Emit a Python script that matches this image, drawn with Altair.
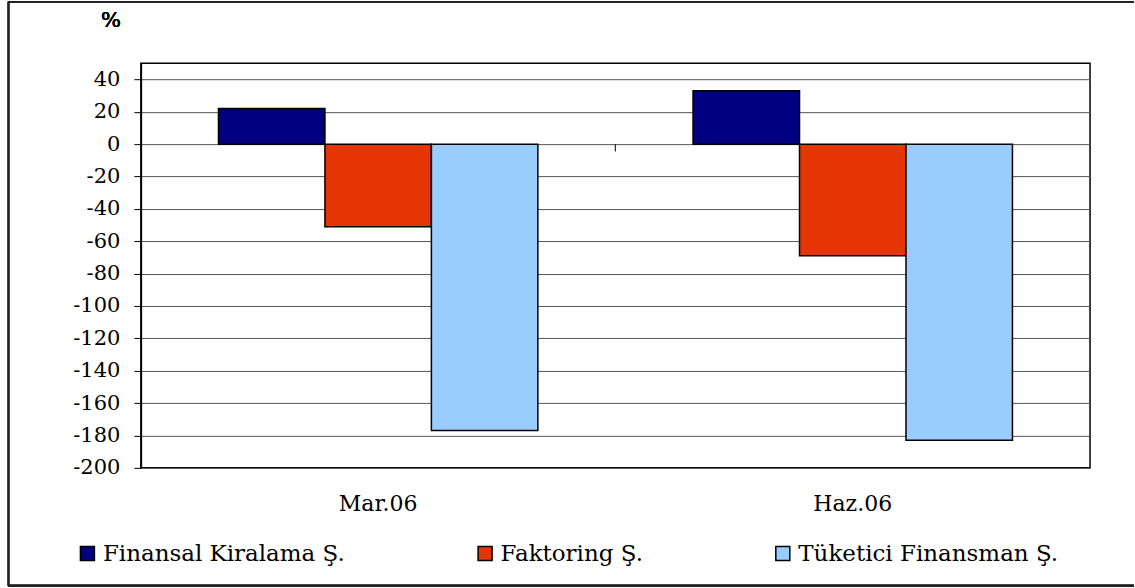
import altair as alt
import pandas as pd

periods = ["Mar.06", "Haz.06"]
series = ["Finansal Kiralama Ş.", "Faktoring Ş.", "Tüketici Finansman Ş."]
values_mar = [22, -51, -177]
values_haz = [33, -69, -183]
colors = ["#000080", "#E63505", "#99CCFF"]
y_ticks = list(range(-200, 41, 20))

rows = []
for s, v in zip(series, values_mar):
    rows.append({"period": periods[0], "series": s, "value": v})
for s, v in zip(series, values_haz):
    rows.append({"period": periods[1], "series": s, "value": v})
df = pd.DataFrame(rows)

FONT = "DejaVu Serif"

bars = alt.Chart(df).mark_bar(stroke="black", strokeWidth=1.5).encode(
    x=alt.X("period:N", sort=periods,
            scale=alt.Scale(paddingInner=0.327, paddingOuter=0.1635),
            axis=alt.Axis(title=None, labelAngle=0, ticks=False, domain=False,
                          labelFont=FONT, labelFontSize=22, labelColor="black",
                          labelPadding=26, grid=False, labelLimit=0)),
    xOffset=alt.XOffset("series:N", sort=series, scale=alt.Scale(paddingInner=0, paddingOuter=0)),
    y=alt.Y("value:Q", scale=alt.Scale(domain=[-200, 50], nice=False, zero=False),
            axis=alt.Axis(title=None, values=y_ticks, labelFont=FONT, labelFontSize=21,
                          labelExpr="toString(datum.value)",
                          labelColor="black", tickColor="black", tickSize=7,
                          domainColor="black", domainWidth=1.5, labelPadding=14,
                          gridColor="#555555", gridWidth=1, grid=True)),
    color=alt.Color("series:N", sort=series,
                    scale=alt.Scale(domain=series, range=colors),
                    legend=alt.Legend(title=None, orient="none", direction="horizontal",
                                      legendX=-65, legendY=479, columns=3,
                                      columnPadding=128, symbolType="square",
                                      symbolSize=196, symbolStrokeColor="black",
                                      symbolStrokeWidth=1.5, labelFont=FONT,
                                      labelFontSize=23, labelColor="black",
                                      labelOffset=4, symbolOpacity=1, labelLimit=0)),
)

zero_tick = alt.Chart(df).mark_rule(color="#333333", strokeWidth=1).encode(
    x=alt.value(475), y=alt.value(81), y2=alt.value(88)
)

pct = alt.Chart(df).mark_text(font=FONT, fontSize=21, fontWeight="normal", color="black").encode(
    x=alt.value(-30), y=alt.value(-42), text=alt.value("%")
)

top_line = alt.Chart(df).mark_rule(color="#222222", strokeWidth=1.5).encode(
    x=alt.value(-133), x2=alt.value(994), y=alt.value(-61.5)
)
left_line = alt.Chart(df).mark_rule(color="#222222", strokeWidth=1.5).encode(
    x=alt.value(-132.5), y=alt.value(-61.5), y2=alt.value(523)
)
bottom_line = alt.Chart(df).mark_rule(color="#222222", strokeWidth=2).encode(
    x=alt.value(-133), x2=alt.value(994), y=alt.value(523)
)

chart = alt.layer(bars, zero_tick, pct, top_line, left_line, bottom_line).properties(
    width=950, height=405,
    padding={"left": 7, "top": 0, "right": 0, "bottom": 0},
    background="white",
).configure_view(stroke="black", strokeWidth=1.5)

chart.save("out.html", embed_options={"renderer": "svg", "actions": False})
